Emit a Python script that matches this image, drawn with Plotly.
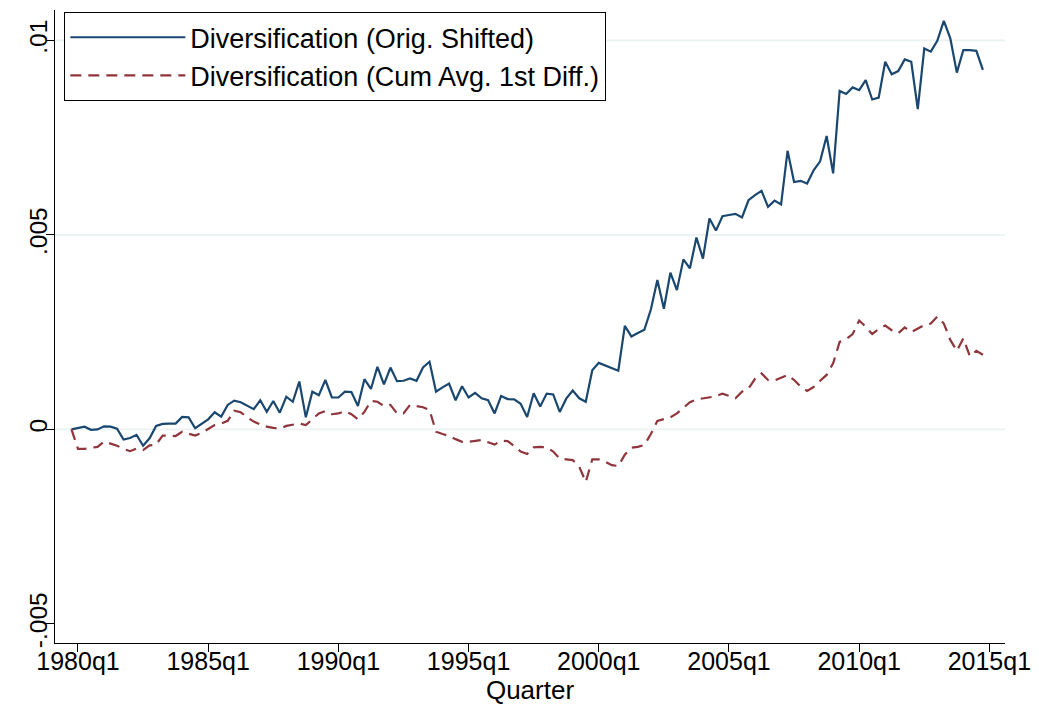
import plotly.graph_objects as go

# Quarter index: 0 = 1980q1; data run from 1979q4 (-1) to 2014q4 (139)
start_q = -1
orig_shifted = [
    0.00, 0.04, 0.07, -0.01, 0.00, 0.08, 0.07, 0.02, -0.26, -0.22,
    -0.14, -0.42, -0.23, 0.09, 0.14, 0.15, 0.15, 0.32, 0.31, 0.03,
    0.15, 0.26, 0.44, 0.33, 0.63, 0.74, 0.70, 0.60, 0.52, 0.75,
    0.45, 0.73, 0.43, 0.84, 0.71, 1.23, 0.31, 0.97, 0.88, 1.27,
    0.82, 0.82, 0.97, 0.96, 0.60, 1.29, 1.04, 1.61, 1.16, 1.59,
    1.24, 1.25, 1.31, 1.25, 1.59, 1.74, 0.97, 1.08, 1.18, 0.75,
    1.11, 0.82, 0.94, 0.80, 0.75, 0.41, 0.86, 0.78, 0.77, 0.66,
    0.32, 0.93, 0.59, 0.92, 0.90, 0.45, 0.79, 1.00, 0.80, 0.71,
    1.52, 1.71, 1.64, 1.59, 1.51, 2.66, 2.39, 2.48, 2.56, 3.08,
    3.84, 3.10, 4.03, 3.58, 4.37, 4.14, 4.93, 4.39, 5.42, 5.11,
    5.48, 5.51, 5.54, 5.45, 5.89, 6.02, 6.13, 5.72, 5.88, 5.78,
    7.16, 6.36, 6.39, 6.32, 6.66, 6.89, 7.54, 6.58, 8.70, 8.62,
    8.79, 8.72, 8.98, 8.48, 8.53, 9.45, 9.13, 9.21, 9.51, 9.45,
    8.23, 9.79, 9.71, 9.99, 10.50, 10.05, 9.17, 9.75, 9.75, 9.73,
    9.24,
]
cum_avg_diff = [
    0.00, -0.50, -0.50, -0.48, -0.45, -0.31, -0.36, -0.42, -0.50, -0.56,
    -0.49, -0.53, -0.41, -0.39, -0.16, -0.17, -0.17, -0.06, -0.10, -0.16,
    -0.09, 0.01, 0.11, 0.15, 0.22, 0.48, 0.44, 0.31, 0.20, 0.13,
    0.07, 0.04, 0.02, 0.09, 0.13, 0.15, 0.11, 0.26, 0.41, 0.47,
    0.39, 0.41, 0.47, 0.39, 0.26, 0.45, 0.73, 0.71, 0.60, 0.63,
    0.41, 0.41, 0.63, 0.60, 0.57, 0.50, -0.06, -0.12, -0.17, -0.25,
    -0.32, -0.32, -0.30, -0.27, -0.33, -0.39, -0.29, -0.30, -0.43, -0.57,
    -0.63, -0.46, -0.45, -0.46, -0.57, -0.75, -0.77, -0.79, -0.96, -1.35,
    -0.77, -0.77, -0.83, -0.92, -0.94, -0.65, -0.47, -0.45, -0.40, -0.12,
    0.22, 0.26, 0.31, 0.41, 0.55, 0.70, 0.77, 0.80, 0.82, 0.85,
    0.92, 0.86, 0.80, 0.97, 1.05, 1.30, 1.44, 1.27, 1.26, 1.33,
    1.40, 1.27, 1.10, 0.99, 1.09, 1.25, 1.40, 1.70, 2.25, 2.32,
    2.45, 2.80, 2.64, 2.45, 2.58, 2.67, 2.55, 2.47, 2.62, 2.50,
    2.60, 2.68, 2.72, 2.90, 2.72, 2.30, 2.02, 2.34, 1.88, 2.02,
    1.92,
]
scale = 1e-3  # values above are in thousandths

x_tick_vals = [0, 20, 40, 60, 80, 100, 120, 140]
x_tick_text = ["1980q1", "1985q1", "1990q1", "1995q1", "2000q1", "2005q1", "2010q1", "2015q1"]
y_tick_vals = [-0.005, 0, 0.005, 0.01]
y_tick_text = ["-.005", "0", ".005", ".01"]
grid_vals = [0, 0.005, 0.01]

qx = [start_q + i for i in range(len(orig_shifted))]
FONT = "Liberation Sans, Arial, Helvetica, sans-serif"

fig = go.Figure()
fig.add_trace(go.Scatter(
    x=qx, y=[v * scale for v in orig_shifted], mode="lines",
    name="Diversification (Orig. Shifted)",
    line=dict(color="#1a476f", width=2.2),
))
fig.add_trace(go.Scatter(
    x=qx, y=[v * scale for v in cum_avg_diff], mode="lines",
    name="Diversification (Cum Avg. 1st Diff.)",
    line=dict(color="#90353b", width=2.2, dash="11px,7px"),
))

for g in grid_vals:
    fig.add_shape(type="line", xref="paper", yref="y", x0=0, x1=1, y0=g, y1=g,
                  line=dict(color="#eaf2f3", width=1.6), layer="below")

# page body has an 8px margin, so the figure is sized/offset to compensate
fig.update_layout(
    width=1031, height=705,
    margin=dict(l=47, r=34, t=2, b=70),
    paper_bgcolor="white", plot_bgcolor="white",
    font=dict(family=FONT, size=25, color="black"),
    showlegend=True,
    legend=dict(
        x=0.0095, y=0.997, xanchor="left", yanchor="top",
        bgcolor="white", bordercolor="black", borderwidth=1.3,
        font=dict(family=FONT, size=27, color="black"),
        itemwidth=115,
        entrywidth=445,
        traceorder="normal",
    ),
    xaxis=dict(
        range=[-3.53, 142.4], automargin=False,
        tickmode="array", tickvals=x_tick_vals, ticktext=x_tick_text,
        ticks="outside", ticklen=8, tickwidth=1.3, tickcolor="black",
        ticklabelstandoff=-12,
        showline=True, linecolor="black", linewidth=1.3,
        showgrid=False, zeroline=False,
        title=dict(text="Quarter", font=dict(family=FONT, size=26), standoff=5),
        tickfont=dict(family=FONT, size=25),
    ),
    yaxis=dict(
        range=[-0.00549, 0.01078], automargin=False,
        tickmode="array", tickvals=y_tick_vals, ticktext=y_tick_text,
        ticks="outside", ticklen=8, tickwidth=1.3, tickcolor="black",
        ticklabelstandoff=-11,
        showline=True, linecolor="black", linewidth=1.3,
        showgrid=False, zeroline=False,
        tickangle=-90,
        tickfont=dict(family=FONT, size=24.5),
    ),
)

fig.write_html("out.html")
